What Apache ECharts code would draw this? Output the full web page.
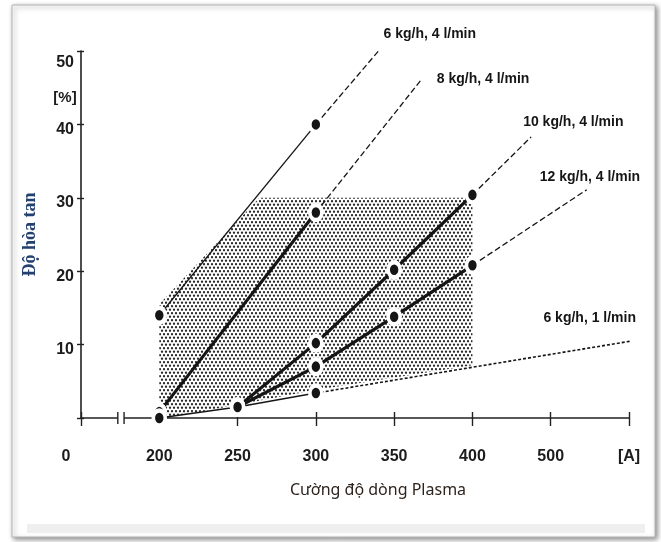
<!DOCTYPE html>
<html><head><meta charset="utf-8">
<script src="https://cdn.jsdelivr.net/npm/echarts@6.0.0/dist/echarts.min.js"></script>
<style>html,body{margin:0;padding:0;background:#fff}#c{width:661px;height:542px}</style>
</head><body><div id="c"></div>
<script>
// ---- data (x in amperes, y in %) ----
const xTickLabels = ['0', '200', '250', '300', '350', '400', '500', '[A]'];
const yTicks = [0, 10, 20, 30, 40, 50];
const seriesNames = ['6 kg/h, 4 l/min', '8 kg/h, 4 l/min', '10 kg/h, 4 l/min', '12 kg/h, 4 l/min', '6 kg/h, 1 l/min'];
const pts6kg4l  = [[200, 14.0], [300, 40.0]];
const pts8kg4l  = [[200, 0.8], [300, 28.0]];
const pts10kg4l = [[250, 1.5], [300, 10.2], [350, 20.2], [400, 30.4]];
const pts12kg4l = [[250, 1.5], [300, 7.0], [350, 13.8], [400, 20.8]];
const pts6kg1l  = [[200, 0.0], [250, 1.5], [300, 3.4]];
const ext6kg4l  = [340, 50.0];
const ext8kg4l  = [367, 46.0];
const ext10kg4l = [475, 38.3];
const ext12kg4l = [546, 31.1];
const ext6kg1l  = [604, 10.5];
const shadedRegion = [[200, 0], [200, 15.5], [264, 30], [400, 30], [400, 7.2], [300, 3.8], [250, 1.8], [205, 0]];

// broken (not-to-scale) current axis: 200..400 in 50 A steps, then 500, then [A]
function toSlot(a) { return a <= 400 ? 2 + (a - 200) / 50 : 6 + (a - 400) / 100; }
const conv = arr => arr.map(p => [toSlot(p[0]), p[1]]);

const NARROW = "'Liberation Sans Narrow', 'Arial Narrow', 'Liberation Sans', sans-serif";
const INK = '#151515';

function dotPattern() {
  const c = document.createElement('canvas'); c.width = 4; c.height = 7;
  const g = c.getContext('2d');
  g.fillStyle = '#2b2b2b';
  [[2, 1.75], [0, 5.25], [4, 5.25]].forEach(([x, y]) => { g.beginPath(); g.arc(x, y, 1.15, 0, Math.PI * 2); g.fill(); });
  return c;
}
const pattern = dotPattern();

const markerStyle = { color: INK, borderColor: '#fff', borderWidth: 4 };

function measured(name, pts, width) {
  return {
    type: 'line', name: name, data: conv(pts), symbol: 'circle', symbolSize: [12, 15],
    itemStyle: markerStyle, lineStyle: { color: INK, width: width, cap: 'butt' },
    z: 5, animation: false, silent: true
  };
}
function extension(name, pts, end, dash, width, lbl) {
  return {
    type: 'line', name: name + ' ext', data: conv([pts[pts.length - 1], end]), showSymbol: false, symbol: 'none',
    lineStyle: { color: INK, width: width, type: dash },
    endLabel: {
      show: true, formatter: name, distance: 0, offset: lbl.offset, align: lbl.align,
      fontFamily: NARROW, fontSize: 14, fontWeight: 'bold', color: INK
    },
    z: 3, animation: false, silent: true
  };
}

const tickFont = { fontFamily: NARROW, fontSize: 16, fontWeight: 'bold', color: '#1c1c1c' };

const chart = echarts.init(document.getElementById('c'), null, { renderer: 'canvas' });
chart.setOption({
  animation: false,
  backgroundColor: '#fff',
  graphic: [
    { type: 'rect', z: -100, shape: { x: 12, y: 5, width: 643, height: 532 },
      style: { fill: '#fff', stroke: '#b5b5b5', lineWidth: 1, shadowBlur: 5, shadowColor: 'rgba(0,0,0,0.45)', shadowOffsetX: 2, shadowOffsetY: 2 } },
    { type: 'rect', z: -99, shape: { x: 27, y: 524, width: 618, height: 9 }, style: { fill: '#efefef' } }
  ],
  grid: { left: 81, right: 32, top: 51, bottom: 124, containLabel: false },
  xAxis: [{
    type: 'value', min: 1, max: 8, interval: 1,
    axisLine: { lineStyle: { color: '#222', width: 1.6 } },
    axisTick: { length: 8, lineStyle: { color: '#222', width: 1.4 } },
    splitLine: { show: false },
    axisLabel: {
      margin: 31, ...tickFont,
      formatter: v => v === 1 ? '{z|' + xTickLabels[0] + '}' : '{n|' + xTickLabels[v - 1] + '}',
      rich: { z: { ...tickFont, padding: [0, 30, 0, 0] }, n: { ...tickFont } }
    },
    name: 'Cường độ dòng Plasma', nameLocation: 'middle', nameGap: 64,
    nameTextStyle: { fontFamily: "'Noto Sans', 'Open Sans', sans-serif", fontSize: 16, color: '#2e241c', padding: [0, 0, 0, 46] }
  }, {
    type: 'value', min: 1, max: 8, interval: 1, position: 'bottom',
    axisLine: { show: false }, axisLabel: { show: false }, splitLine: { show: false },
    axisTick: { inside: true, length: 6, lineStyle: { color: '#222', width: 1.4 } }
  }],
  yAxis: [{
    type: 'value', min: yTicks[0], max: yTicks[yTicks.length - 1], interval: 10,
    axisLine: { show: true, lineStyle: { color: '#222', width: 1.6 } },
    axisTick: { show: true, length: 4, lineStyle: { color: '#222', width: 1.4 } },
    splitLine: { show: false },
    axisLabel: {
      margin: 7, ...tickFont,
      formatter: v => v === 0 ? '' : (v === 50 ? '{t|' + v + '}' : '{n|' + v + '}'),
      rich: { n: { ...tickFont, padding: [10, 0, 0, 0] }, t: { ...tickFont, padding: [24, 0, 0, 0] } }
    },
    name: '[%]', nameLocation: 'end', nameGap: -54,
    nameTextStyle: { ...tickFont, fontSize: 15, padding: [0, 32, 0, 0] }
  }, {
    type: 'value', min: 0, max: 50, interval: 10, position: 'left',
    axisLine: { show: false }, axisLabel: { show: false }, splitLine: { show: false },
    axisTick: { show: true, inside: true, length: 3, lineStyle: { color: '#222', width: 1.4 } },
    name: 'Độ hòa tan', nameLocation: 'middle', nameRotate: 90, nameGap: 42,
    nameTextStyle: { fontFamily: "'Liberation Serif', 'DejaVu Serif', serif", fontWeight: 'bold', fontSize: 18, color: '#23406f' }
  }],
  series: [
    {
      type: 'custom', name: 'region', data: conv(shadedRegion), z: 1, silent: true, clip: false,
      renderItem: (params, api) => {
        if (params.dataIndex !== 0) return null;
        const pts = shadedRegion.map(p => api.coord([toSlot(p[0]), p[1]]));
        return { type: 'polygon', shape: { points: pts }, style: { fill: { image: pattern, repeat: 'repeat' }, stroke: null } };
      }
    },
    {
      type: 'custom', name: 'axis break', data: [[1.47, 0]], z: 6, silent: true, clip: false,
      renderItem: (params, api) => {
        const a = api.coord([1.47, 0]), b = api.coord([1.55, 0]);
        return { type: 'group', children: [
          { type: 'rect', shape: { x: a[0], y: a[1] - 3, width: b[0] - a[0], height: 6 }, style: { fill: '#fff' } },
          { type: 'line', shape: { x1: a[0], y1: a[1] - 6, x2: a[0], y2: a[1] + 6 }, style: { stroke: '#222', lineWidth: 1.4 } },
          { type: 'line', shape: { x1: b[0], y1: b[1] - 6, x2: b[0], y2: b[1] + 6 }, style: { stroke: '#222', lineWidth: 1.4 } }
        ] };
      }
    },
    extension(seriesNames[0], pts6kg4l, ext6kg4l, [6, 3], 1.3, { offset: [5, -17], align: 'left' }),
    extension(seriesNames[1], pts8kg4l, ext8kg4l, [6, 3], 1.3, { offset: [16, -1], align: 'left' }),
    extension(seriesNames[2], pts10kg4l, ext10kg4l, [6, 3], 1.3, { offset: [-8, -15], align: 'left' }),
    extension(seriesNames[3], pts12kg4l, ext12kg4l, [6, 3], 1.3, { offset: [-47, -13], align: 'left' }),
    extension(seriesNames[4], pts6kg1l, ext6kg1l, [3, 2], 1.6, { offset: [5, -23], align: 'right' }),
    measured(seriesNames[0], pts6kg4l, 1.3),
    measured(seriesNames[1], pts8kg4l, 3.2),
    measured(seriesNames[2], pts10kg4l, 3.2),
    measured(seriesNames[3], pts12kg4l, 3.2),
    measured(seriesNames[4], pts6kg1l, 1.4)
  ]
});
</script>
</body></html>
